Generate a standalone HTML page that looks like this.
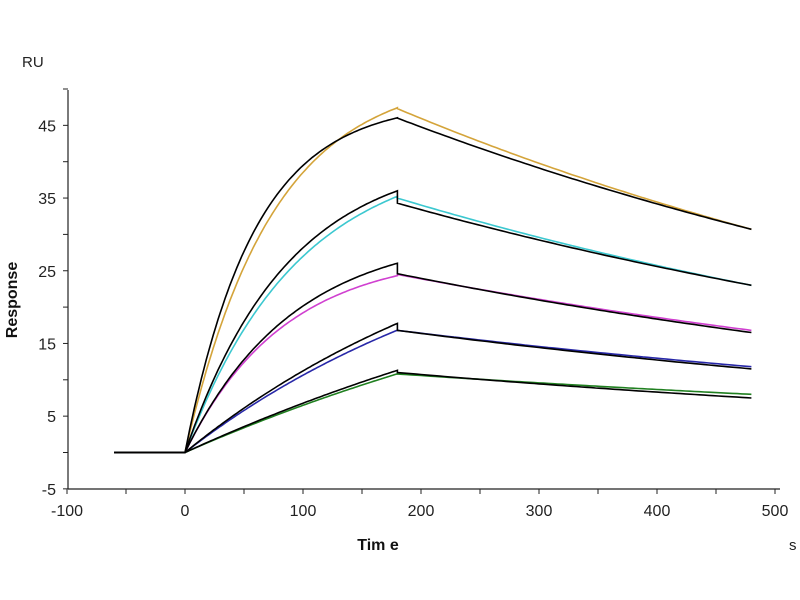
<!DOCTYPE html>
<html><head><meta charset="utf-8"><style>
body{margin:0;background:#fff}
svg{display:block;font-family:"Liberation Sans",Arial,sans-serif}
</style></head><body>
<svg id="s" width="800" height="600" viewBox="0 0 800 600" xmlns="http://www.w3.org/2000/svg">
<rect width="800" height="600" fill="#fff"/>
<text x="22" y="67" font-size="15" fill="#222">RU</text>
<text transform="translate(17,300) rotate(-90)" text-anchor="middle" font-size="16" font-weight="bold" fill="#111">Response</text>
<text x="378" y="550" text-anchor="middle" font-size="16" font-weight="bold" fill="#111">Tim e</text>
<text x="789" y="550" font-size="15" fill="#222">s</text>
<g stroke="#222" stroke-width="1.2" fill="none">
<line x1="68" y1="90" x2="68" y2="489"/>
<line x1="68" y1="489" x2="780" y2="489"/>
</g>
<g id="ticks" stroke="#222" stroke-width="1"></g>
<g id="labels" font-size="16" fill="#222"></g>
<g id="curves" fill="none" stroke-width="1.6"></g>
</svg>
<script>
var X=function(t){return 185+t*1.18},Y=function(v){return 452.5-v*7.27};
var tk='',lb='';
for(var v=-5;v<=50;v+=5){var y=Y(v);tk+='<line x1="63" y1="'+y+'" x2="68" y2="'+y+'"/>';}
[-5,5,15,25,35,45].forEach(function(v){lb+='<text x="56" y="'+(Y(v)+6)+'" text-anchor="end">'+v+'</text>';});
for(var t=-100;t<=500;t+=50){var x=X(t);tk+='<line x1="'+x+'" y1="489" x2="'+x+'" y2="494"/>';}
[-100,0,100,200,300,400,500].forEach(function(t){lb+='<text x="'+X(t)+'" y="516" text-anchor="middle">'+t+'</text>';});
document.getElementById('ticks').innerHTML=tk;document.getElementById('labels').innerHTML=lb;
function path(Req,k,d0,dEnd){var kd=Math.log(d0/dEnd)/300;var p='M'+X(-60)+','+Y(0);
for(var t=0;t<=180;t+=2)p+=' L'+X(t).toFixed(1)+','+Y(Req*(1-Math.exp(-k*t))).toFixed(1);
for(var t=180;t<=480;t+=4)p+=' L'+X(t).toFixed(1)+','+Y(d0*Math.exp(-kd*(t-180))).toFixed(1);return p;}
var data=[["#d4a43a",52,0.0135,47.3,30.7],["#3cc8d0",41.5,0.0105,35.0,23],["#d040d0",27.5,0.012,24.5,16.8],["#2828a8",36,0.0035,16.8,11.8],["#208020",35.8,0.002,10.8,8.0]];
var fit=[[48.3,0.017,46,30.7],[41.2,0.0115,34.3,23],[30.2,0.011,24.6,16.5],[38,0.0035,16.8,11.5],[37.4,0.002,11.0,7.5]];
var h='';
data.forEach(function(d){h+='<path stroke="'+d[0]+'" d="'+path(d[1],d[2],d[3],d[4])+'"/>';});
fit.forEach(function(f){h+='<path stroke="#000" d="'+path(f[0],f[1],f[2],f[3])+'"/>';});
document.getElementById('curves').innerHTML=h;
</script>
</body></html>
